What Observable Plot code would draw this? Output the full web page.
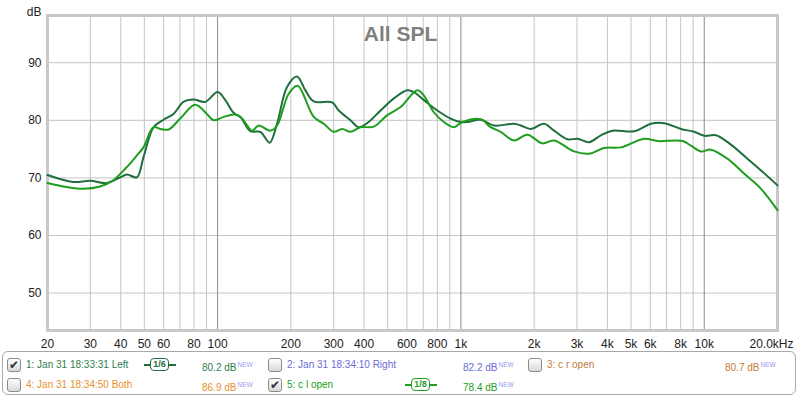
<!DOCTYPE html>
<html>
<head>
<meta charset="utf-8">
<script src="https://cdn.jsdelivr.net/npm/d3@7"></script>
<script src="https://cdn.jsdelivr.net/npm/@observablehq/plot@0.6"></script>
<style>
  html, body { margin: 0; padding: 0; background: #fff; }
  body { width: 800px; height: 397px; overflow: hidden; font-family: "Liberation Sans", Arial, sans-serif; }
  #legend { position: relative; margin-left: 2px; width: 794px; height: 44px; border: 1px solid #a8a8a8; border-radius: 6px; box-sizing: border-box; }
  .it { position: absolute; font-size: 10px; white-space: nowrap; line-height: 12px; }
  .it sup { font-size: 6.5px; color: #9a9af0; vertical-align: 4px; margin-left: 1px; }
  .cb { position: absolute; width: 12px; height: 12px; border: 1px solid #8c8c8c; border-radius: 3px; background: linear-gradient(#ffffff, #d8d8d8); box-sizing: content-box; font-size: 12px; line-height: 12px; text-align: center; color: #333; font-family: "DejaVu Sans", sans-serif; }
  .badge { position: absolute; height: 14px; }
  .badge .ln { position: absolute; top: 6px; left: 0; height: 2px; }
  .badge .bx { position: absolute; top: 0; height: 11px; background: #fff; border-radius: 4px; font-size: 9px; line-height: 11px; text-align: center; font-weight: bold; }
</style>
</head>
<body>
<div id="chart"></div>
<div id="legend"></div>
<script>
// ---- data ----
const freqLeft = [20, 25.5, 30, 35.1, 39.8, 42.4, 46.6, 49.6, 54.6, 60, 65.9, 72.4, 79.7, 89, 100, 107.6, 116.4, 124, 136.4, 149.9, 163.7, 175.5, 193, 212, 229.6, 248.4, 295.6, 314.8, 351.7, 380.4, 412, 467.3, 530, 602, 641, 704, 800, 907, 997, 1062, 1205, 1367, 1652, 1761, 1936, 2196, 2414, 2741, 3013, 3363, 3758, 4198, 5152, 6036, 6846, 8020, 9095, 10000, 11172, 12486, 15087, 17117, 20000];
const dbLeft   = [70.5, 69.3, 69.5, 69.1, 70.1, 70.6, 70.1, 73.6, 78.8, 80.1, 81.1, 83.2, 83.6, 83.2, 84.9, 83.5, 81.3, 80.6, 78.1, 78.0, 76.1, 79.4, 85.8, 87.6, 85.2, 83.3, 83.1, 81.7, 80.0, 78.8, 79.5, 81.7, 83.8, 85.2, 84.9, 83.5, 81.7, 80.3, 79.7, 79.7, 80.1, 79.1, 79.4, 79.1, 78.5, 79.4, 78.2, 76.7, 76.8, 76.2, 77.4, 78.2, 78.1, 79.4, 79.5, 78.5, 78.0, 77.3, 77.4, 76.2, 73.3, 71.3, 68.7];

const freqOpen = [20, 24, 28.1, 32.9, 37.3, 42.4, 46.6, 49.6, 54.5, 58.1, 62.9, 70.2, 80.9, 90.4, 96.3, 105.9, 118.3, 126, 138.6, 147.5, 164.8, 175.6, 196, 213, 248.4, 273.1, 300.2, 325.1, 351.7, 386.6, 438.5, 498, 565, 661.6, 704, 774, 851, 936, 1013, 1205, 1325, 1457, 1652, 1876, 2163, 2414, 2917, 3363, 3877, 4542, 5664, 6431, 8150, 8815, 9691, 10656, 12486, 14606, 17117, 20000];
const dbOpen   = [69.1, 68.4, 68.1, 68.5, 69.6, 71.9, 73.9, 75.3, 78.8, 78.5, 78.4, 80.3, 82.7, 81.1, 80.0, 80.6, 81.0, 80.3, 78.2, 79.1, 78.2, 79.1, 84.6, 86.0, 80.6, 79.4, 78.0, 78.5, 78.0, 78.8, 78.9, 80.9, 82.3, 85.2, 84.3, 81.4, 79.7, 78.8, 79.7, 80.2, 78.8, 78.0, 76.5, 77.5, 76.0, 76.5, 74.6, 74.2, 75.2, 75.3, 76.8, 76.4, 76.4, 75.6, 74.6, 74.9, 73.3, 70.7, 68.1, 64.4];

const xTicks = [20, 30, 40, 50, 60, 80, 100, 200, 300, 400, 600, 800, 1000, 2000, 3000, 4000, 5000, 6000, 8000, 10000, 20000];
const xTickLabels = ["20", "30", "40", "50", "60", "80", "100", "200", "300", "400", "600", "800", "1k", "2k", "3k", "4k", "5k", "6k", "8k", "10k", "20.0kHz"];
const xGridMinor = [30, 40, 50, 60, 70, 80, 90, 200, 300, 400, 500, 600, 700, 800, 900, 2000, 3000, 4000, 5000, 6000, 7000, 8000, 9000];
const xGridMajor = [100, 1000, 10000];
const yTicks = [50, 60, 70, 80, 90];

const legendRows = [
  {x: 0, row: 0, checked: true, label: "1: Jan 31 18:33:31 Left", color: "#2e7d4f", value: "80.2 dB", badge: "1/6", badgeColor: "#1f6e3d"},
  {x: 1, row: 0, checked: false, label: "2: Jan 31 18:34:10 Right", color: "#6b6bd8", value: "82.2 dB"},
  {x: 2, row: 0, checked: false, label: "3: c r open", color: "#c47a3a", value: "80.7 dB"},
  {x: 0, row: 1, checked: false, label: "4: Jan 31 18:34:50 Both", color: "#e8902e", value: "86.9 dB"},
  {x: 1, row: 1, checked: true, label: "5: c l open", color: "#22a022", value: "78.4 dB", badge: "1/8", badgeColor: "#1e9e1e"}
];

const left = freqLeft.map((f, i) => ({f, db: dbLeft[i]}));
const open = freqOpen.map((f, i) => ({f, db: dbOpen[i]}));
const xLabelData = xTicks.map((f, i) => ({f, label: xTickLabels[i]}));

const chart = Plot.plot({
  width: 800,
  height: 351,
  marginLeft: 47,
  marginRight: 23,
  marginTop: 15,
  marginBottom: 21,
  style: {fontFamily: "'Liberation Sans', Arial, sans-serif", fontSize: "12px", background: "#fff", color: "#222"},
  x: {type: "log", domain: [20, 20000], axis: null},
  y: {domain: [43.5, 98.2]},
  marks: [
    Plot.ruleY(yTicks, {stroke: "#c4c4c4", strokeWidth: 1}),
    Plot.ruleX(xGridMinor, {stroke: "#c4c4c4", strokeWidth: 1}),
    Plot.ruleX(xGridMajor, {stroke: "#8a8a8a", strokeWidth: 1}),
    Plot.frame({stroke: "#c8c8c8", strokeWidth: 3}),
    Plot.axisY({ticks: yTicks, tickSize: 0, tickPadding: 6, label: null, fontSize: 12}),
    Plot.text(xLabelData, {x: "f", text: "label", frameAnchor: "bottom", lineAnchor: "middle", dy: 14, fontSize: 12, fill: "#222"}),
    Plot.text(["dB"], {frameAnchor: "top-left", dx: -6, dy: -8, textAnchor: "end", fontSize: 12}),
    Plot.text(["All SPL"], {frameAnchor: "top", dx: -12, dy: 11, fontSize: 21, fontWeight: "bold", fill: "#808080"}),
    Plot.line(left, {x: "f", y: "db", stroke: "#1f6e3d", strokeWidth: 2, curve: "catmull-rom"}),
    Plot.line(open, {x: "f", y: "db", stroke: "#1e9e1e", strokeWidth: 2, curve: "catmull-rom"})
  ]
});
document.getElementById("chart").appendChild(chart);

// shift the last tick label ("20.0kHz") slightly left, as in the reference
chart.querySelectorAll("text").forEach(t => {
  if (t.textContent === "20.0kHz") t.setAttribute("dx", "-6");
});

// legend (HTML below the svg)
const lg = document.getElementById("legend");
const colX = [4, 265, 525];
const valX = [199, 460, 722];
legendRows.forEach(r => {
  const top = r.row === 0 ? 6 : 26;
  const cb = document.createElement("div");
  cb.className = "cb";
  cb.style.left = colX[r.x] + "px";
  cb.style.top = top + "px";
  cb.textContent = r.checked ? "\u2714" : "";
  lg.appendChild(cb);
  const t = document.createElement("div");
  t.className = "it";
  t.style.left = (colX[r.x] + 19) + "px";
  t.style.top = (top + 1) + "px";
  t.style.color = r.color;
  t.textContent = r.label;
  lg.appendChild(t);
  const v = document.createElement("div");
  v.className = "it";
  v.style.left = valX[r.x] + "px";
  v.style.top = (top + 1) + "px";
  v.style.color = r.color;
  v.innerHTML = r.value + "<sup>NEW</sup>";
  lg.appendChild(v);
  if (r.badge) {
    const b = document.createElement("div");
    b.className = "badge";
    const bx0 = r.x === 0 ? 141 : 402;
    b.style.left = bx0 + "px";
    b.style.top = top + "px";
    b.style.width = "32px";
    const ln = document.createElement("div");
    ln.className = "ln";
    ln.style.width = "32px";
    ln.style.background = r.badgeColor;
    b.appendChild(ln);
    const bx = document.createElement("div");
    bx.className = "bx";
    bx.style.left = "6px";
    bx.style.width = "17px";
    bx.style.border = "1.5px solid " + r.badgeColor;
    bx.style.color = r.badgeColor;
    bx.textContent = r.badge;
    b.appendChild(bx);
    lg.appendChild(b);
  }
});
</script>
</body>
</html>
